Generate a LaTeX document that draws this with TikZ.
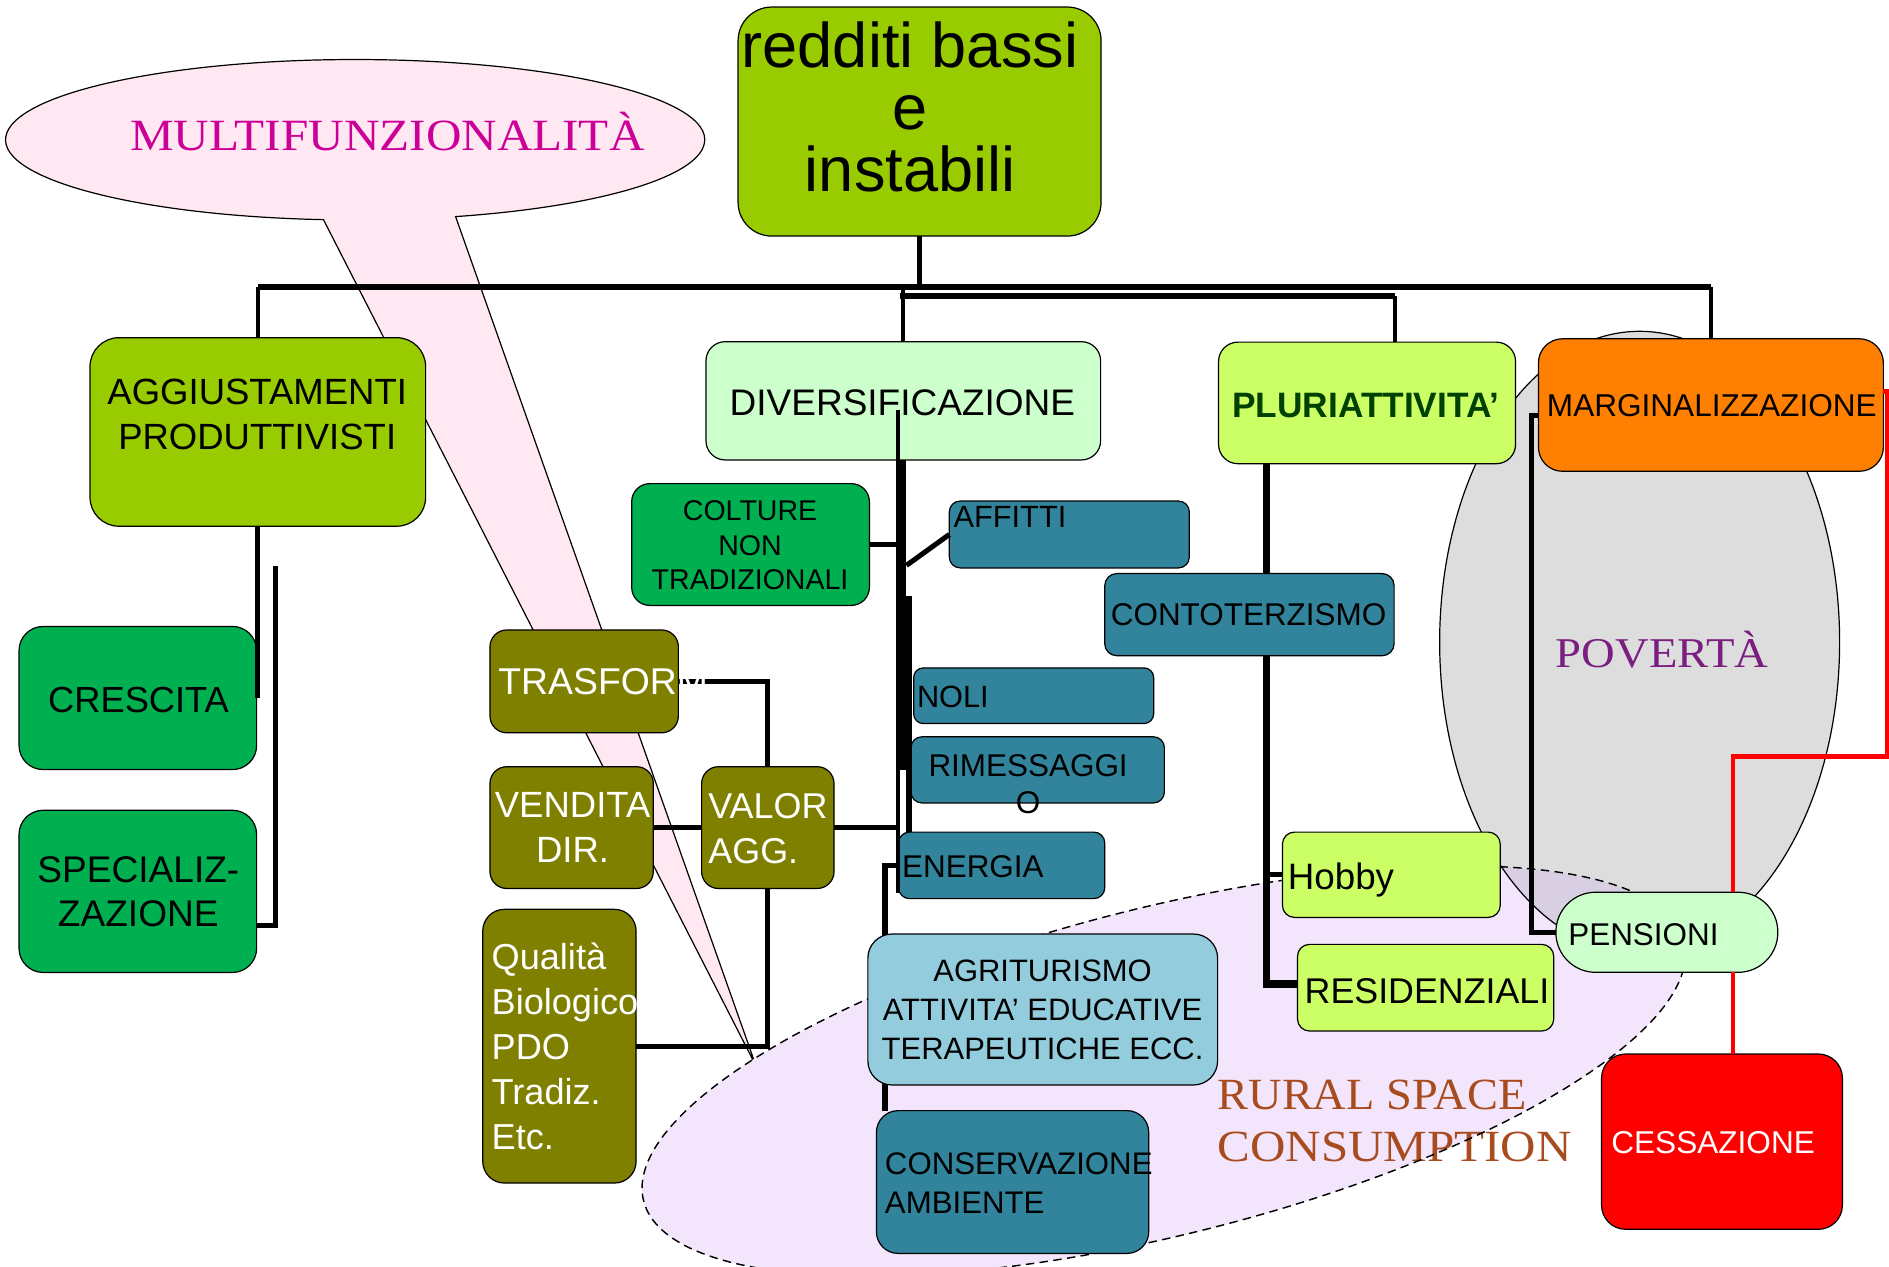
\documentclass[tikz,border=0pt]{standalone}
\usepackage{fontspec}
\setmainfont{Liberation Sans}
\newfontfamily\engr[FakeStretch=1.1]{Liberation Serif}
\newfontfamily\engrb[FakeStretch=1.04]{Liberation Serif}
\usetikzlibrary{calc}
\definecolor{cLime}{HTML}{99CC00}
\definecolor{cGreen}{HTML}{00B050}
\definecolor{cPale}{HTML}{CCFFCC}
\definecolor{cYel}{HTML}{CCFF66}
\definecolor{cOrange}{HTML}{FF8000}
\definecolor{cTeal}{HTML}{31849B}
\definecolor{cLBlue}{HTML}{93CDDD}
\definecolor{cOlive}{HTML}{808000}
\definecolor{cRed}{HTML}{FF0000}
\definecolor{cPink}{HTML}{FFE8F2}
\definecolor{cLav}{HTML}{F3E6FC}
\definecolor{cGray}{HTML}{DDDDDD}
\definecolor{cOver}{HTML}{D8CFE3}
\definecolor{cMag}{HTML}{CC0099}
\definecolor{cPurp}{HTML}{7A1E7F}
\definecolor{cBrown}{HTML}{A84B1E}
\definecolor{cDGreen}{HTML}{004000}
\newcommand{\tsz}[2]{\fontsize{#1}{#2}\selectfont}
\begin{document}
\begin{tikzpicture}[x=1pt,y=-1pt,
  box/.style={draw=black, line width=1pt, rounded corners=#1, inner sep=0pt, outer sep=0pt},
  txt/.style={inner sep=0pt, outer sep=0pt},
  link/.style={draw=black, line width=4.2pt},
  hline/.style={draw=black, line width=5pt},
  dline/.style={draw=black, line width=3.5pt},
  redl/.style={draw=cRed, line width=3.5pt}
]
\fill[white] (0,0) rectangle (1568,1051);
\useasboundingbox (0,0) rectangle (1568,1051);

% ---- callout MULTIFUNZIONALITA
\coordinate (tip) at (627.6,885);
\filldraw[fill=cPink, draw=black, line width=1pt] (268.5,182.33) arc[start angle=95.2, end angle=433.3, x radius=290.2, y radius=66.6] -- (tip) -- cycle;

% ---- ellipses
\fill[cGray] (1361,533) ellipse[x radius=166, y radius=258];
\begin{scope}[shift={(966,889)}, rotate=14]
  \fill[cLav] (0,0) ellipse[x radius=445, y radius=136];
\end{scope}
\begin{scope}
  \clip[shift={(966,889)}, rotate=14] (0,0) ellipse[x radius=445, y radius=136];
  \fill[cOver] (1361,533) ellipse[x radius=166, y radius=258];
\end{scope}
\draw[line width=1pt] (1361,533) ellipse[x radius=166, y radius=258];

\node[txt, anchor=base, font=\engr\tsz{37.1}{40}, text=cMag] (multit) at (321.5,125) {MULTIFUNZIONALITÀ};
\node[txt, anchor=base west, font=\engr\tsz{35.2}{40}, text=cPurp] (povt) at (1291.5,554) {POVERTÀ};
\node[txt, anchor=west, align=left, font=\engr\tsz{37}{42.9}, text=cBrown] (ruralt) at (1010.7,930.6) {{\engrb RURAL SPACE}\\CONSUMPTION};

\begin{scope}[shift={(966,889)}, rotate=14]
  \draw[line width=1.2pt, dash pattern=on 7pt off 4.5pt] (0,0) ellipse[x radius=445, y radius=136];
\end{scope}

% ---- box positions (coordinates used by connectors)
\coordinate (rdbS) at (763.3,195.9);
\coordinate (aggN) at (214,280.3);
\coordinate (marN) at (1420.15,281.2);
\coordinate (divN) at (749.6,283.6);
\coordinate (j2a) at (747.1,245.8);
\coordinate (j2b) at (1157.7,245.8);

% ---- connectors
\draw[hline] (aggN |- 0,238.2) -- (marN |- 0,238.2);
\draw[link, line width=4.5pt] (rdbS) -- (rdbS |- 0,241);
\draw[dline] (aggN |- 0,238.2) -- (aggN);
\draw[dline] (marN |- 0,238.2) -- (marN);
\draw[hline] (j2a) -- (j2b);
\draw[dline] (divN |- 0,238.2) -- (divN);
\draw[dline] (j2b) -- (j2b |- 0,284);

% ---- boxes (nodes)
\node[box=28pt, fill=cLime, minimum width=301.3pt, minimum height=190.1pt] (rdb) at (763.3,100.9) {};
\node[box=24pt, fill=cLime, minimum width=278.6pt, minimum height=156.5pt] (agg) at (214,358.55) {};
\node[box=20pt, fill=cGreen, minimum width=197.2pt, minimum height=118.8pt] (cre) at (114.4,579.4) {};
\node[box=20pt, fill=cGreen, minimum width=197.2pt, minimum height=134.6pt] (spe) at (114.4,739.9) {};
\node[box=16pt, fill=cPale, minimum width=327.6pt, minimum height=98.2pt] (div) at (749.8,332.7) {};
\node[box=15pt, fill=cGreen, minimum width=197.3pt, minimum height=101.1pt] (col) at (623,452) {};
\node[box=9pt, fill=cTeal, minimum width=199.2pt, minimum height=55.5pt] (aff) at (887.6,443.65) {};
\node[box=8pt, fill=cTeal, minimum width=199.2pt, minimum height=46.2pt] (nol) at (858,577.5) {};
\node[box=9pt, fill=cTeal, minimum width=210.3pt, minimum height=54.9pt] (rim) at (861.35,639.05) {};
\node[box=9pt, fill=cTeal, minimum width=171.1pt, minimum height=55.2pt] (ene) at (831.45,718.3) {};
\node[box=10pt, fill=cYel, minimum width=180.8pt, minimum height=70.8pt] (hob) at (1154.9,726.1) {};
\node[box=10pt, fill=cYel, minimum width=212.7pt, minimum height=71.9pt] (res) at (1183.35,819.85) {};
\node[box=16pt, fill=cYel, minimum width=246.5pt, minimum height=100.9pt] (plu) at (1134.75,334.45) {};
\node[box=20pt, fill=cOrange, minimum width=286.3pt, minimum height=110pt] (mar) at (1420.15,336.2) {};
\node[box=20pt, fill=cRed, minimum width=199.9pt, minimum height=145.5pt] (ces) at (1429.35,947.65) {};
\node[box=14pt, fill=cOlive, minimum width=156.4pt, minimum height=85.4pt] (tra) at (484.9,565.6) {};
\node[box=14pt, fill=cOlive, minimum width=135.6pt, minimum height=101.1pt] (ven) at (474.5,686.95) {};
\node[box=14pt, fill=cOlive, minimum width=109.9pt, minimum height=101.1pt] (val) at (637.35,686.95) {};
\node[box=18pt, fill=cOlive, minimum width=127.3pt, minimum height=227.2pt] (qua) at (464.35,868.4) {};
\node[box=33pt, fill=cPale, minimum width=184.2pt, minimum height=66.5pt] (pen) at (1383.6,773.85) {};

% connectors that lie behind later boxes
\coordinate (aggfree) at (228.3,470);
\draw[link] (agg.south) -- (agg.south |- cre.east);
\draw[link] (aggfree) |- ($(spe.east)+(0,28.1)$);

\coordinate (divin) at (745.2,340);
\coordinate (divc) at (754.6,494.5);
\coordinate (affj) at (752.4,469.3);
\draw[link, line width=3.5pt] (divin) -- ($(ene.south west)+(-0.7,-5)$);
\draw[link, line width=5.4pt] (div.south -| 749.7,0) -- (rim.west -| 749.7,0);
\draw[link, line width=4.5pt] (divc) -- (divc |- ene.north);
\draw[link] (col.east) -- (col.east -| divin);
\draw[link] (affj) -- (aff.west);
\draw[link] (val.east) -- (val.east -| divin);
\draw[link] (ene.west) -| (734.6,921.9);

\draw[link] (tra.east) -| (val.north);
\draw[link] (ven.east) -- (val.west);
\draw[link] (val.south) |- (qua.east);

\draw[link, line width=6pt] (plu.south -| 1051.2,0) |- ($(res.west)+(0,-3)$);
\draw[link, line width=4.5pt] (hob.west) -- (hob.west -| 1051.2,0);

\draw[link, line width=4.4pt] ($(mar.west)+(0,8.5)$) -- ++(-5.5,0) |- (pen.west);

\coordinate (rc1) at (1566.6,628);
\coordinate (rc2) at (1438.8,628);
\draw[redl] ($(mar.east)+(0,-11.2)$) -| (rc1) -- (rc2) -- (rc2 |- pen.north);
\draw[redl] (rc2 |- pen.south) -- (rc2 |- ces.north);

% boxes on top of these connectors
\node[box=10pt, fill=cTeal, minimum width=240.2pt, minimum height=68.2pt] (con) at (1037.1,510.2) {};
\node[box=20pt, fill=cLBlue, minimum width=290.3pt, minimum height=125.3pt] (agr) at (865.55,837.95) {};
\node[box=18pt, fill=cTeal, minimum width=226pt, minimum height=118.5pt] (cns) at (840.5,981.15) {};

% ---- texts
\node[txt, align=center, font=\tsz{52.4}{51.3}] (rdbt) at (755.5,88.95) {redditi bassi\\e\\instabili};
\node[txt, align=center, font=\tsz{30.3}{36.7}] (aggt) at (213.5,344) {AGGIUSTAMENTI\\PRODUTTIVISTI};
\node[txt, anchor=base, font=\tsz{30.1}{36}] (cret) at (115,591.3) {CRESCITA};
\node[txt, align=center, font=\tsz{30.8}{36.8}] (spet) at (114.8,740.4) {SPECIALIZ-\\ZAZIONE};
\node[txt, anchor=base, font=\tsz{30.7}{36}] (divt) at (749,344.5) {DIVERSIFICAZIONE};
\node[txt, align=center, font=\tsz{23.7}{28.45}] (colt) at (622.6,452.6) {COLTURE\\NON\\TRADIZIONALI};
\node[txt, anchor=base west, font=\tsz{25.5}{30}] (afft) at (791.6,438.2) {AFFITTI};
\node[txt, anchor=base, font=\tsz{26.1}{30}] (cont) at (1036.4,519.6) {CONTOTERZISMO};
\node[txt, anchor=base west, font=\tsz{25.5}{30}] (nolt) at (761.2,586.9) {NOLI};
\node[txt, align=center, font=\tsz{26.1}{30.3}] (rimt) at (853.4,650.9) {RIMESSAGGI\\O};
\node[txt, anchor=base west, font=\tsz{26.1}{30}] (enet) at (748.8,728.1) {ENERGIA};
\node[txt, anchor=base west, font=\tsz{30.5}{36}] (hobt) at (1069,738.5) {Hobby};
\node[txt, anchor=base west, font=\tsz{29.7}{36}] (rest) at (1083,832.6) {RESIDENZIALI};
\node[txt, anchor=base, font=\bfseries\tsz{29.3}{35}, text=cDGreen] (plut) at (1133.8,346.8) {PLURIATTIVITA’};
\node[txt, anchor=base, font=\tsz{26.2}{30}] (mart) at (1420.9,345.9) {MARGINALIZZAZIONE};
\node[txt, anchor=base west, font=\tsz{26.1}{30}] (pent) at (1301.8,785.1) {PENSIONI};
\node[txt, anchor=base, font=\tsz{26.2}{30}, text=white] (cest) at (1422,957.4) {CESSAZIONE};
\node[txt, align=center, font=\tsz{25.7}{32.2}] (agrt) at (865.4,838.1) {AGRITURISMO\\ATTIVITA’ EDUCATIVE\\TERAPEUTICHE ECC.};
\node[txt, anchor=west, align=left, font=\tsz{25.9}{31.8}] (cnst) at (734.6,982) {CONSERVAZIONE\\AMBIENTE};
\node[txt, anchor=base west, font=\tsz{31}{36}, text=white] (trat) at (413.7,576.5) {TRASFORM.};
\node[txt, align=center, font=\tsz{30.3}{37.2}, text=white] (vent) at (475.3,687) {VENDITA\\DIR.};
\node[txt, anchor=west, align=left, font=\tsz{29.8}{37.2}, text=white] (valt) at (588,687.5) {VALOR\\AGG.};
\node[txt, anchor=west, align=left, font=\tsz{30}{37.2}, text=white] (quat) at (408.1,868.6) {Qualità\\Biologico\\PDO\\Tradiz.\\Etc.};

% line drawn over the DIVERSIFICAZIONE box
\draw[link, line width=3.5pt] (divin) -- (div.south -| divin);
\end{tikzpicture}
\end{document}
